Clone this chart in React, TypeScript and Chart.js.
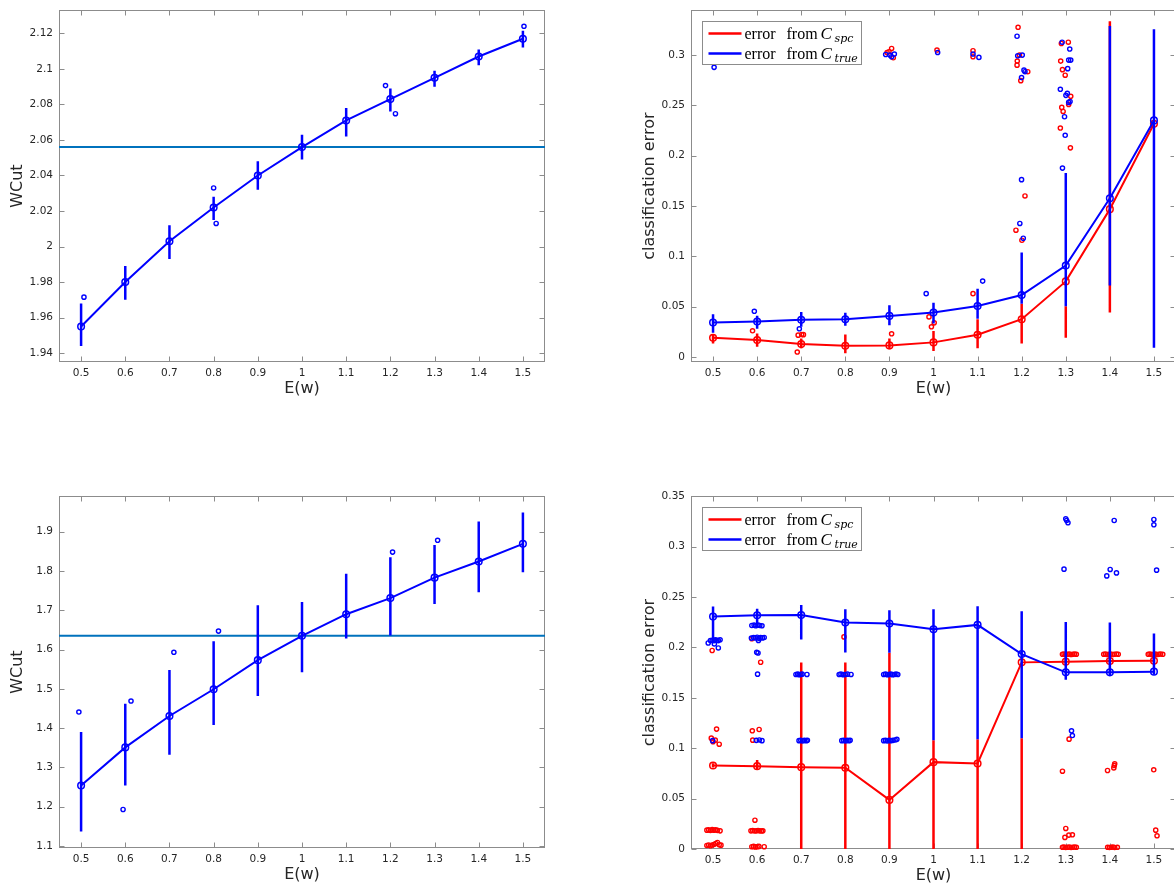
import React, { useEffect, useRef } from "react";
import { Chart, registerables } from "chart.js";
Chart.register(...registerables);

// ---------- shared axis data ----------
const E_W = [0.5, 0.6, 0.7, 0.8, 0.9, 1.0, 1.1, 1.2, 1.3, 1.4, 1.5];
const X_TICKS = [0.5, 0.6, 0.7, 0.8, 0.9, 1.0, 1.1, 1.2, 1.3, 1.4, 1.5];
const X_MIN = 0.45;
const X_MAX = 1.55;
const X_TITLE = "E(w)";

// ---------- top-left: WCut ----------
const TL_MEAN = [1.955, 1.98, 2.003, 2.022, 2.04, 2.056, 2.071, 2.083, 2.095, 2.107, 2.117];
const TL_LO = [1.944, 1.97, 1.993, 2.015, 2.032, 2.049, 2.062, 2.076, 2.09, 2.102, 2.112];
const TL_HI = [1.968, 1.989, 2.012, 2.028, 2.048, 2.063, 2.078, 2.089, 2.099, 2.111, 2.1215];
const TL_REF = 2.056;
const TL_OUTLIERS = [[0.5065, 1.9715], [0.8, 2.033], [0.8057, 2.013], [1.189, 2.0906], [1.2115, 2.0748], [1.5024, 2.124]];
const TL_Y_TICKS = [1.94, 1.96, 1.98, 2.0, 2.02, 2.04, 2.06, 2.08, 2.1, 2.12];

// ---------- bottom-left: WCut ----------
const BL_MEAN = [1.254, 1.351, 1.431, 1.499, 1.573, 1.635, 1.69, 1.731, 1.783, 1.824, 1.869];
const BL_LO = [1.137, 1.254, 1.332, 1.408, 1.482, 1.542, 1.628, 1.636, 1.716, 1.746, 1.797];
const BL_HI = [1.39, 1.462, 1.548, 1.621, 1.713, 1.721, 1.793, 1.835, 1.866, 1.926, 1.949];
const BL_REF = 1.635;
const BL_OUTLIERS = [[0.495, 1.441], [0.595, 1.193], [0.613, 1.469], [0.71, 1.593], [0.811, 1.647], [1.205, 1.848], [1.307, 1.878]];
const BL_Y_TICKS = [1.1, 1.2, 1.3, 1.4, 1.5, 1.6, 1.7, 1.8, 1.9];

// ---------- top-right: classification error ----------
const TR_SPC_MEAN = [0.0191, 0.0168, 0.0128, 0.0112, 0.0115, 0.0145, 0.0221, 0.0375, 0.0751, 0.1469, 0.2318];
const TR_SPC_LO = [0.0135, 0.0102, 0.0086, 0.0036, 0.0076, 0.0059, 0.0086, 0.0135, 0.0191, 0.0441, 0.2318];
const TR_SPC_HI = [0.0224, 0.0234, 0.0184, 0.0224, 0.0184, 0.0257, 0.0375, 0.053, 0.0504, 0.3335, 0.2318];
const TR_TRUE_MEAN = [0.0342, 0.0352, 0.0369, 0.0375, 0.0408, 0.0441, 0.0507, 0.0616, 0.0909, 0.1577, 0.2351];
const TR_TRUE_LO = [0.024, 0.028, 0.03, 0.031, 0.0316, 0.0333, 0.038, 0.053, 0.0504, 0.0711, 0.0092];
const TR_TRUE_HI = [0.0425, 0.041, 0.0448, 0.044, 0.0514, 0.054, 0.0678, 0.1037, 0.1827, 0.329, 0.3257];
const TR_SPC_DOTS = [
  [0.5896, 0.026], [0.691, 0.0049], [0.693, 0.0217], [0.701, 0.0224], [0.705, 0.0222], [0.905, 0.023],
  [0.9898, 0.0398], [1.0016, 0.0339], [0.9953, 0.03], [1.0896, 0.0629], [0.8947, 0.3026], [0.905, 0.3066],
  [0.9088, 0.2973], [0.899, 0.3033], [1.0079, 0.305], [1.0896, 0.3043], [1.0896, 0.2983], [1.1918, 0.3276],
  [1.19, 0.294], [1.1895, 0.29], [1.195, 0.3], [1.198, 0.2746], [1.2138, 0.2835], [1.2075, 0.16],
  [1.187, 0.126], [1.2005, 0.116], [1.29, 0.3115], [1.3058, 0.3128], [1.2885, 0.294], [1.2925, 0.2855],
  [1.2987, 0.28], [1.2909, 0.248], [1.294, 0.244], [1.3113, 0.259], [1.3066, 0.251], [1.2877, 0.2275],
  [1.3105, 0.2078],
];
const TR_TRUE_DOTS = [
  [0.5024, 0.2878], [0.5936, 0.0454], [0.6957, 0.028], [0.9834, 0.0629], [1.1115, 0.0754], [0.8915, 0.3006],
  [0.901, 0.3], [0.9112, 0.301], [0.905, 0.2983], [1.0094, 0.3026], [1.0896, 0.301], [1.103, 0.2977],
  [1.1895, 0.3187], [1.191, 0.2993], [1.2013, 0.3], [1.1997, 0.2776], [1.2052, 0.285], [1.2075, 0.2835],
  [1.1997, 0.1762], [1.1958, 0.1327], [1.2036, 0.118], [1.2917, 0.3128], [1.309, 0.306], [1.3066, 0.295],
  [1.3113, 0.295], [1.3043, 0.2865], [1.2877, 0.266], [1.3035, 0.262], [1.3003, 0.26], [1.3097, 0.2539],
  [1.3066, 0.253], [1.2972, 0.2387], [1.2987, 0.2203], [1.2925, 0.1877],
];
const TR_Y_TICKS = [0, 0.05, 0.1, 0.15, 0.2, 0.25, 0.3];

// ---------- bottom-right: classification error ----------
const BR_SPC_MEAN = [0.0829, 0.0822, 0.0812, 0.0806, 0.0487, 0.0862, 0.0849, 0.1852, 0.1859, 0.1865, 0.1868];
const BR_SPC_LO = [0.081, 0.0785, 0, 0, 0, 0, 0, 0, 0.183, 0.184, 0.184];
const BR_SPC_HI = [0.085, 0.0884, 0.185, 0.185, 0.1947, 0.108, 0.109, 0.11, 0.19, 0.19, 0.19];
const BR_TRUE_MEAN = [0.2306, 0.2319, 0.2322, 0.2247, 0.2237, 0.2181, 0.2224, 0.1934, 0.1753, 0.1753, 0.176];
const BR_TRUE_LO = [0.207, 0.2218, 0.208, 0.195, 0.1947, 0.108, 0.109, 0.11, 0.168, 0.172, 0.173];
const BR_TRUE_HI = [0.2406, 0.2383, 0.2422, 0.2378, 0.2368, 0.2378, 0.2408, 0.236, 0.2253, 0.2247, 0.2138];
const BR_TRUE_DOTS = [
  [0.489, 0.2044], [0.494, 0.2068], [0.498, 0.2072], [0.502, 0.2068], [0.505, 0.2076], [0.509, 0.2072],
  [0.512, 0.2068], [0.516, 0.2076], [0.503, 0.2035], [0.512, 0.1995], [0.499, 0.1075],
  [0.588, 0.2218], [0.593, 0.2222], [0.597, 0.2215], [0.602, 0.2222], [0.606, 0.2218], [0.611, 0.2215],
  [0.587, 0.2093], [0.592, 0.2099], [0.596, 0.2095], [0.6, 0.2102], [0.604, 0.2092], [0.608, 0.2099],
  [0.612, 0.2095], [0.616, 0.2099], [0.603, 0.207], [0.599, 0.1952], [0.602, 0.1945], [0.601, 0.1735],
  [0.598, 0.1078], [0.605, 0.1082], [0.611, 0.1075],
  [0.688, 0.1732], [0.692, 0.1735], [0.695, 0.173], [0.699, 0.1732], [0.702, 0.1735], [0.713, 0.1732],
  [0.695, 0.1075], [0.699, 0.1078], [0.703, 0.1072], [0.707, 0.1078], [0.711, 0.1075], [0.714, 0.1078],
  [0.786, 0.1732], [0.79, 0.1735], [0.795, 0.173], [0.8, 0.1732], [0.805, 0.1735], [0.813, 0.1732],
  [0.792, 0.1075], [0.796, 0.1078], [0.8, 0.1072], [0.804, 0.1078], [0.808, 0.1075], [0.811, 0.1078],
  [0.887, 0.1732], [0.891, 0.1735], [0.895, 0.173], [0.899, 0.1732], [0.903, 0.1735], [0.907, 0.173],
  [0.911, 0.1732], [0.915, 0.1735], [0.919, 0.1732],
  [0.887, 0.1075], [0.891, 0.1078], [0.895, 0.1072], [0.899, 0.1078], [0.903, 0.1075], [0.908, 0.1078],
  [0.913, 0.1082], [0.917, 0.1088],
  [1.3, 0.3276], [1.302, 0.326], [1.305, 0.3237], [1.296, 0.2777], [1.313, 0.1173], [1.315, 0.1126],
  [1.4098, 0.326], [1.393, 0.271], [1.4007, 0.2774], [1.415, 0.274],
  [1.4998, 0.327], [1.4998, 0.3217], [1.506, 0.2767],
];
const BR_SPC_DOTS = [
  [0.498, 0.197], [0.508, 0.119], [0.496, 0.11], [0.5, 0.1065], [0.505, 0.108], [0.514, 0.104],
  [0.486, 0.0187], [0.49, 0.019], [0.494, 0.0183], [0.498, 0.0192], [0.502, 0.0187], [0.506, 0.019],
  [0.51, 0.0185], [0.516, 0.018], [0.486, 0.0035], [0.49, 0.004], [0.494, 0.0032], [0.498, 0.0039],
  [0.502, 0.0045], [0.506, 0.0055], [0.51, 0.0065], [0.514, 0.0042], [0.518, 0.0038],
  [0.588, 0.2087], [0.608, 0.1853], [0.589, 0.1173], [0.6045, 0.1186], [0.59, 0.108], [0.595, 0.0286],
  [0.586, 0.018], [0.59, 0.0183], [0.594, 0.0178], [0.598, 0.018], [0.602, 0.0183], [0.606, 0.018],
  [0.61, 0.0178], [0.613, 0.018], [0.588, 0.0023], [0.592, 0.0026], [0.596, 0.0021], [0.6, 0.0023],
  [0.604, 0.0026], [0.616, 0.0023],
  [0.797, 0.2105],
  [1.2925, 0.1932], [1.296, 0.1935], [1.3, 0.193], [1.304, 0.1932], [1.308, 0.1935], [1.312, 0.193],
  [1.316, 0.1932], [1.32, 0.1935], [1.324, 0.1932], [1.3075, 0.109], [1.2925, 0.0772], [1.3, 0.0204],
  [1.307, 0.0138], [1.315, 0.0141], [1.298, 0.0115], [1.2925, 0.0017], [1.296, 0.002], [1.3, 0.0015],
  [1.304, 0.0017], [1.308, 0.002], [1.312, 0.0015], [1.316, 0.0017], [1.32, 0.002], [1.324, 0.0017],
  [1.386, 0.1932], [1.39, 0.1935], [1.394, 0.193], [1.398, 0.1932], [1.402, 0.1935], [1.406, 0.193],
  [1.41, 0.1932], [1.415, 0.1935], [1.419, 0.1932], [1.3947, 0.0779], [1.41, 0.0828], [1.411, 0.0845],
  [1.409, 0.0805], [1.395, 0.0017], [1.399, 0.0015], [1.403, 0.0017], [1.407, 0.002], [1.411, 0.0015],
  [1.417, 0.0017],
  [1.487, 0.1932], [1.491, 0.1935], [1.495, 0.193], [1.499, 0.1932], [1.503, 0.1935], [1.507, 0.193],
  [1.511, 0.1932], [1.515, 0.1935], [1.52, 0.1932], [1.4995, 0.0786], [1.504, 0.0187], [1.507, 0.0131],
];
const BR_Y_TICKS = [0, 0.05, 0.1, 0.15, 0.2, 0.25, 0.3, 0.35];

const LEGEND_ITEMS = [
  { word1: "error", word2: "from", sym: "C", sub: "spc", color: "#ff0000" },
  { word1: "error", word2: "from", sym: "C", sub: "true", color: "#0000ff" },
];

// ---------- styling ----------
const BLUE = "#0000ff";
const RED = "#ff0000";
const REF_COLOR = "#0072bd";
const AXIS_COLOR = "#8c8c8c";
const TEXT_COLOR = "#262626";
const TICK_FONT = { family: "DejaVu Sans", size: 10.5 };

const Y_AXIS_W = 60;
const X_AXIS_H = 45;
const PAD_T = 10;
const PAD_R = 10;

// ---------- helpers ----------
const pts = (xs: number[], ys: number[]) => xs.map((x, i) => ({ x, y: ys[i] }));
const errSegs = (xs: number[], lo: number[], hi: number[]) =>
  xs.flatMap((x, i) => [{ x, y: lo[i] }, { x, y: hi[i] }, { x, y: null as any }]);
const pairs = (p: number[][]) => p.map(([x, y]) => ({ x, y }));
const fmt = (v: any) => String(parseFloat(Number(v).toFixed(3)));

const lineDs = (data: any[], color: string, order: number) => ({
  data, order, clip: false, showLine: true,
  borderColor: color, borderWidth: 2, backgroundColor: "rgba(0,0,0,0)",
  pointRadius: 3.3, pointBorderWidth: 1.5, pointBorderColor: color,
  pointBackgroundColor: "rgba(0,0,0,0)", pointHoverRadius: 3.3,
});
const errDs = (data: any[], color: string, order: number) => ({
  data, order, clip: false, showLine: true, spanGaps: false,
  borderColor: color, borderWidth: 2.5, pointRadius: 0, pointHoverRadius: 0,
});
const dotDs = (data: any[], color: string, order: number) => ({
  data, order, clip: false, showLine: false,
  pointRadius: 2.1, pointBorderWidth: 1.4, pointBorderColor: color,
  pointBackgroundColor: "rgba(0,0,0,0)", borderColor: color, pointHoverRadius: 2.1,
});
const refDs = (y: number, order: number) => ({
  data: [{ x: X_MIN, y }, { x: X_MAX, y }], order, clip: false, showLine: true,
  borderColor: REF_COLOR, borderWidth: 2, pointRadius: 0, pointHoverRadius: 0,
});

function drawLegend(ctx: CanvasRenderingContext2D, a: any) {
  const bx = Math.round(a.left) + 11.5;
  const by = Math.round(a.top) + 11.5;
  const bw = 159;
  const bh = 43;
  ctx.save();
  ctx.fillStyle = "#ffffff";
  ctx.fillRect(bx, by, bw, bh);
  ctx.strokeStyle = AXIS_COLOR;
  ctx.lineWidth = 1;
  ctx.strokeRect(bx, by, bw, bh);
  LEGEND_ITEMS.forEach((it, i) => {
    const ry = by + 12 + i * 20;
    ctx.strokeStyle = it.color;
    ctx.lineWidth = 2.5;
    ctx.beginPath();
    ctx.moveTo(bx + 6, ry);
    ctx.lineTo(bx + 39, ry);
    ctx.stroke();
    ctx.fillStyle = "#000000";
    ctx.textAlign = "left";
    ctx.textBaseline = "alphabetic";
    ctx.font = '16px "Liberation Serif"';
    ctx.fillText(it.word1, bx + 42, ry + 5);
    ctx.fillText(it.word2, bx + 84, ry + 5);
    ctx.font = 'italic 17px "Liberation Serif"';
    ctx.fillText(it.sym, bx + 118, ry + 5);
    ctx.font = 'italic 11px "DejaVu Serif"';
    ctx.fillText(it.sub, bx + 132, ry + 8);
  });
  ctx.restore();
}

const axesPlugin = {
  id: "matlabAxes",
  beforeDatasetsDraw(chart: any, _args: any, opts: any) {
    const { ctx, chartArea: a, scales } = chart;
    const L = Math.round(a.left) + 0.5;
    const R = Math.round(a.right) - 0.5;
    const T = Math.round(a.top) + 0.5;
    const B = Math.round(a.bottom) - 0.5;
    ctx.save();
    ctx.strokeStyle = AXIS_COLOR;
    ctx.lineWidth = 1;
    ctx.strokeRect(L, T, R - L, B - T);
    ctx.beginPath();
    for (const v of opts.xTicks) {
      const px = Math.round(scales.x.getPixelForValue(v)) + 0.5;
      ctx.moveTo(px, B); ctx.lineTo(px, B - 5);
      ctx.moveTo(px, T); ctx.lineTo(px, T + 5);
    }
    for (const v of opts.yTicks) {
      const py = Math.round(scales.y.getPixelForValue(v)) + 0.5;
      ctx.moveTo(L, py); ctx.lineTo(L + 5, py);
      ctx.moveTo(R, py); ctx.lineTo(R - 5, py);
    }
    ctx.stroke();
    ctx.restore();
  },
  afterDraw(chart: any, _args: any, opts: any) {
    const { ctx, chartArea: a } = chart;
    ctx.save();
    ctx.fillStyle = TEXT_COLOR;
    ctx.font = '16px "DejaVu Sans"';
    ctx.textAlign = "center";
    ctx.textBaseline = "middle";
    ctx.fillText(opts.xTitle, (a.left + a.right) / 2, a.bottom + 27);
    ctx.translate(a.left - 41, (a.top + a.bottom) / 2);
    ctx.rotate(-Math.PI / 2);
    ctx.fillText(opts.yTitle, 0, 0);
    ctx.restore();
    if (opts.legend) drawLegend(ctx, a);
  },
};

type Spec = {
  left: number; top: number; width: number; height: number;
  yMin: number; yMax: number; yTicks: number[]; yTitle: string; legend: boolean;
  datasets: any[];
};

const SPECS: Spec[] = [
  {
    left: 59, top: 8, width: 486, height: 354, yMin: 1.935, yMax: 2.133, yTicks: TL_Y_TICKS,
    yTitle: "WCut", legend: false,
    datasets: [
      lineDs(pts(E_W, TL_MEAN), BLUE, 1),
      errDs(errSegs(E_W, TL_LO, TL_HI), BLUE, 2),
      dotDs(pairs(TL_OUTLIERS), BLUE, 3),
      refDs(TL_REF, 4),
    ],
  },
  {
    left: 691, top: 8, width: 485, height: 354, yMin: -0.005, yMax: 0.3445, yTicks: TR_Y_TICKS,
    yTitle: "classification error", legend: true,
    datasets: [
      lineDs(pts(E_W, TR_TRUE_MEAN), BLUE, 1),
      errDs(errSegs(E_W, TR_TRUE_LO, TR_TRUE_HI), BLUE, 2),
      dotDs(pairs(TR_TRUE_DOTS), BLUE, 3),
      dotDs(pairs(TR_SPC_DOTS), RED, 4),
      lineDs(pts(E_W, TR_SPC_MEAN), RED, 5),
      errDs(errSegs(E_W, TR_SPC_LO, TR_SPC_HI), RED, 6),
    ],
  },
  {
    left: 59, top: 494, width: 486, height: 354, yMin: 1.095, yMax: 1.99, yTicks: BL_Y_TICKS,
    yTitle: "WCut", legend: false,
    datasets: [
      lineDs(pts(E_W, BL_MEAN), BLUE, 1),
      errDs(errSegs(E_W, BL_LO, BL_HI), BLUE, 2),
      dotDs(pairs(BL_OUTLIERS), BLUE, 3),
      refDs(BL_REF, 4),
    ],
  },
  {
    left: 691, top: 494, width: 485, height: 355, yMin: 0, yMax: 0.35, yTicks: BR_Y_TICKS,
    yTitle: "classification error", legend: true,
    datasets: [
      lineDs(pts(E_W, BR_TRUE_MEAN), BLUE, 1),
      errDs(errSegs(E_W, BR_TRUE_LO, BR_TRUE_HI), BLUE, 2),
      dotDs(pairs(BR_TRUE_DOTS), BLUE, 3),
      dotDs(pairs(BR_SPC_DOTS), RED, 4),
      lineDs(pts(E_W, BR_SPC_MEAN), RED, 5),
      errDs(errSegs(E_W, BR_SPC_LO, BR_SPC_HI), RED, 6),
    ],
  },
];

function Panel({ spec }: { spec: Spec }) {
  const ref = useRef<HTMLCanvasElement>(null);
  const cw = spec.width + Y_AXIS_W + PAD_R;
  const ch = spec.height + PAD_T + X_AXIS_H;
  useEffect(() => {
    if (!ref.current) return;
    const chart = new Chart(ref.current, {
      type: "scatter",
      data: { datasets: spec.datasets },
      plugins: [axesPlugin],
      options: {
        animation: false,
        responsive: false,
        devicePixelRatio: 1,
        events: [],
        layout: { padding: { left: 0, top: PAD_T, right: PAD_R, bottom: 0 } },
        plugins: {
          legend: { display: false },
          tooltip: { enabled: false },
          matlabAxes: {
            xTicks: X_TICKS, yTicks: spec.yTicks, xTitle: X_TITLE,
            yTitle: spec.yTitle, legend: spec.legend,
          },
        } as any,
        scales: {
          x: {
            type: "linear", min: X_MIN, max: X_MAX,
            afterBuildTicks: (ax: any) => { ax.ticks = X_TICKS.map((v) => ({ value: v })); },
            afterFit: (ax: any) => { ax.height = X_AXIS_H; },
            grid: { display: false, drawTicks: false },
            border: { display: false },
            ticks: { padding: 5, font: TICK_FONT, color: TEXT_COLOR, autoSkip: false, maxRotation: 0, callback: fmt },
          },
          y: {
            type: "linear", min: spec.yMin, max: spec.yMax,
            afterBuildTicks: (ax: any) => { ax.ticks = spec.yTicks.map((v) => ({ value: v })); },
            afterFit: (ax: any) => { ax.width = Y_AXIS_W; },
            grid: { display: false, drawTicks: false },
            border: { display: false },
            ticks: { padding: 6, font: TICK_FONT, color: TEXT_COLOR, autoSkip: false, callback: fmt },
          },
        } as any,
      },
    } as any);
    return () => chart.destroy();
  }, []);
  return (
    <canvas
      ref={ref}
      width={cw}
      height={ch}
      style={{
        position: "absolute",
        left: spec.left - Y_AXIS_W,
        top: spec.top - PAD_T,
        width: cw,
        height: ch,
      }}
    />
  );
}

export default function App() {
  return (
    <div
      style={{
        position: "fixed", left: 0, top: 0, width: 1174, height: 888,
        overflow: "hidden", background: "#ffffff",
      }}
    >
      {SPECS.map((s, i) => (
        <Panel key={i} spec={s} />
      ))}
    </div>
  );
}
